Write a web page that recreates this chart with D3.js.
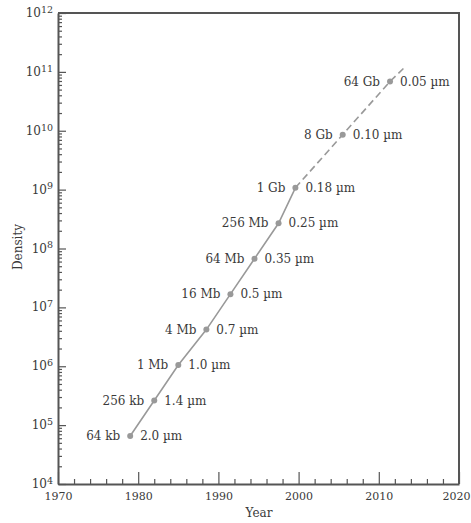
<!DOCTYPE html>
<html>
<head>
<meta charset="utf-8">
<script src="https://cdn.jsdelivr.net/npm/d3@7"></script>
<style>
  body { margin: 0; background: #fff; }
  text { font-family: "DejaVu Serif", serif; fill: #3a3a3a; }
</style>
</head>
<body>
<script>
var width = 471;
var height = 523;
var marginLeft = 58;
var marginRight = 12;
var marginTop = 13;
var marginBottom = 39;

// DRAM generations
var years = [1979, 1982, 1985, 1988.5, 1991.5, 1994.5, 1997.5, 1999.6, 2005.5, 2011.4];
var densities = [65536, 262144, 1048576, 4194304, 16777216, 67108864, 268435456, 1073741824, 8589934592, 68719476736];
var sizeLabels = ["64 kb", "256 kb", "1 Mb", "4 Mb", "16 Mb", "64 Mb", "256 Mb", "1 Gb", "8 Gb", "64 Gb"];
var featureLabels = ["2.0 µm", "1.4 µm", "1.0 µm", "0.7 µm", "0.5 µm", "0.35 µm", "0.25 µm", "0.18 µm", "0.10 µm", "0.05 µm"];
var projectionEnd = {year: 2013.1, density: 1.15e11};

var xTicks = [1970, 1980, 1990, 2000, 2010, 2020];
var yExponents = [4, 5, 6, 7, 8, 9, 10, 11, 12];

var data = years.map((y, i) => ({year: y, density: densities[i], size: sizeLabels[i], feature: featureLabels[i]}));
var solid = data.slice(0, 8);
var dashed = data.slice(7).concat([projectionEnd]);

var svg = d3.select("body").append("svg")
  .attr("width", width)
  .attr("height", height);

var x = d3.scaleLinear().domain([1970, 2020]).range([marginLeft, width - marginRight]);
var y = d3.scaleLog().domain([1e4, 1e12]).range([height - marginBottom, marginTop]);

var axisColor = "#555";

// minor ticks
var xMinor = d3.range(1972, 2020, 2).filter(d => d % 10 != 0);
var yMinor = [];
yExponents.slice(0, -1).forEach(e => { for (var k = 2; k < 10; k++) yMinor.push(k * Math.pow(10, e)); });

svg.append("g")
  .attr("transform", `translate(0,${height - marginBottom})`)
  .call(d3.axisBottom(x).tickValues(xMinor).tickSize(-5).tickFormat(""))
  .call(g => g.select(".domain").remove());

svg.append("g")
  .attr("transform", `translate(${marginLeft},0)`)
  .call(d3.axisLeft(y).tickValues(yMinor).tickSize(-4).tickFormat(""))
  .call(g => g.select(".domain").remove());

var xAxis = svg.append("g")
  .attr("transform", `translate(0,${height - marginBottom})`)
  .call(d3.axisBottom(x).tickValues(xTicks).tickSizeInner(-12).tickSizeOuter(0).tickFormat(d3.format("d")));
xAxis.selectAll("text")
  .attr("font-size", 11)
  .attr("font-family", "DejaVu Serif, serif")
  .attr("dy", "0.71em")
  .attr("y", 8)
  .attr("x", d => d == 2020 ? -3 : 0); // keep the last year inside the window

var yAxis = svg.append("g")
  .attr("transform", `translate(${marginLeft},0)`)
  .call(d3.axisLeft(y).tickValues(yExponents.map(e => Math.pow(10, e))).tickSizeInner(-8).tickSizeOuter(0).tickFormat(""));
yAxis.selectAll(".tick").append("text")
  .attr("x", -5)
  .attr("dy", "0.3em")
  .attr("text-anchor", "end")
  .attr("font-size", 12)
  .attr("font-family", "Liberation Serif, serif")
  .each(function(d) {
    var t = d3.select(this);
    t.append("tspan").text("10");
    t.append("tspan").attr("font-size", 9.5).attr("dy", "-0.45em").text(Math.round(Math.log10(d)));
  });

svg.selectAll(".tick line, .domain").attr("stroke", axisColor);
svg.selectAll(".domain").attr("stroke-width", 2);
svg.selectAll(".tick line").attr("stroke-width", 1.2);
svg.selectAll(".tick text").attr("fill", "#3a3a3a");

// frame top and right
svg.append("path")
  .attr("d", `M${marginLeft},${marginTop}H${width - marginRight}V${height - marginBottom}`)
  .attr("fill", "none")
  .attr("stroke", axisColor)
  .attr("stroke-width", 2);

var line = d3.line().x(d => x(d.year)).y(d => y(d.density));

svg.append("path")
  .datum(solid)
  .attr("d", line)
  .attr("fill", "none")
  .attr("stroke", "#999")
  .attr("stroke-width", 1.6);

svg.append("path")
  .datum(dashed)
  .attr("d", line)
  .attr("fill", "none")
  .attr("stroke", "#999")
  .attr("stroke-width", 1.6)
  .attr("stroke-dasharray", "7,4");

svg.selectAll(".pt")
  .data(data)
  .join("circle")
    .attr("cx", d => x(d.year))
    .attr("cy", d => y(d.density))
    .attr("r", 3)
    .attr("fill", "#999");

svg.selectAll(".lbl-size")
  .data(data)
  .join("text")
    .attr("x", d => x(d.year) - 10)
    .attr("y", d => y(d.density))
    .attr("dy", "0.35em")
    .attr("text-anchor", "end")
    .attr("font-size", 12)
    .text(d => d.size);

svg.selectAll(".lbl-feat")
  .data(data)
  .join("text")
    .attr("x", d => x(d.year) + 10)
    .attr("y", d => y(d.density))
    .attr("dy", "0.35em")
    .attr("font-size", 12)
    .text(d => d.feature);

// axis titles
svg.append("text")
  .attr("x", 259)
  .attr("y", 517)
  .attr("text-anchor", "middle")
  .attr("font-size", 12)
  .text("Year");

svg.append("text")
  .attr("transform", `translate(22,247) rotate(-90)`)
  .attr("text-anchor", "middle")
  .attr("font-size", 12)
  .text("Density");
</script>
</body>
</html>
